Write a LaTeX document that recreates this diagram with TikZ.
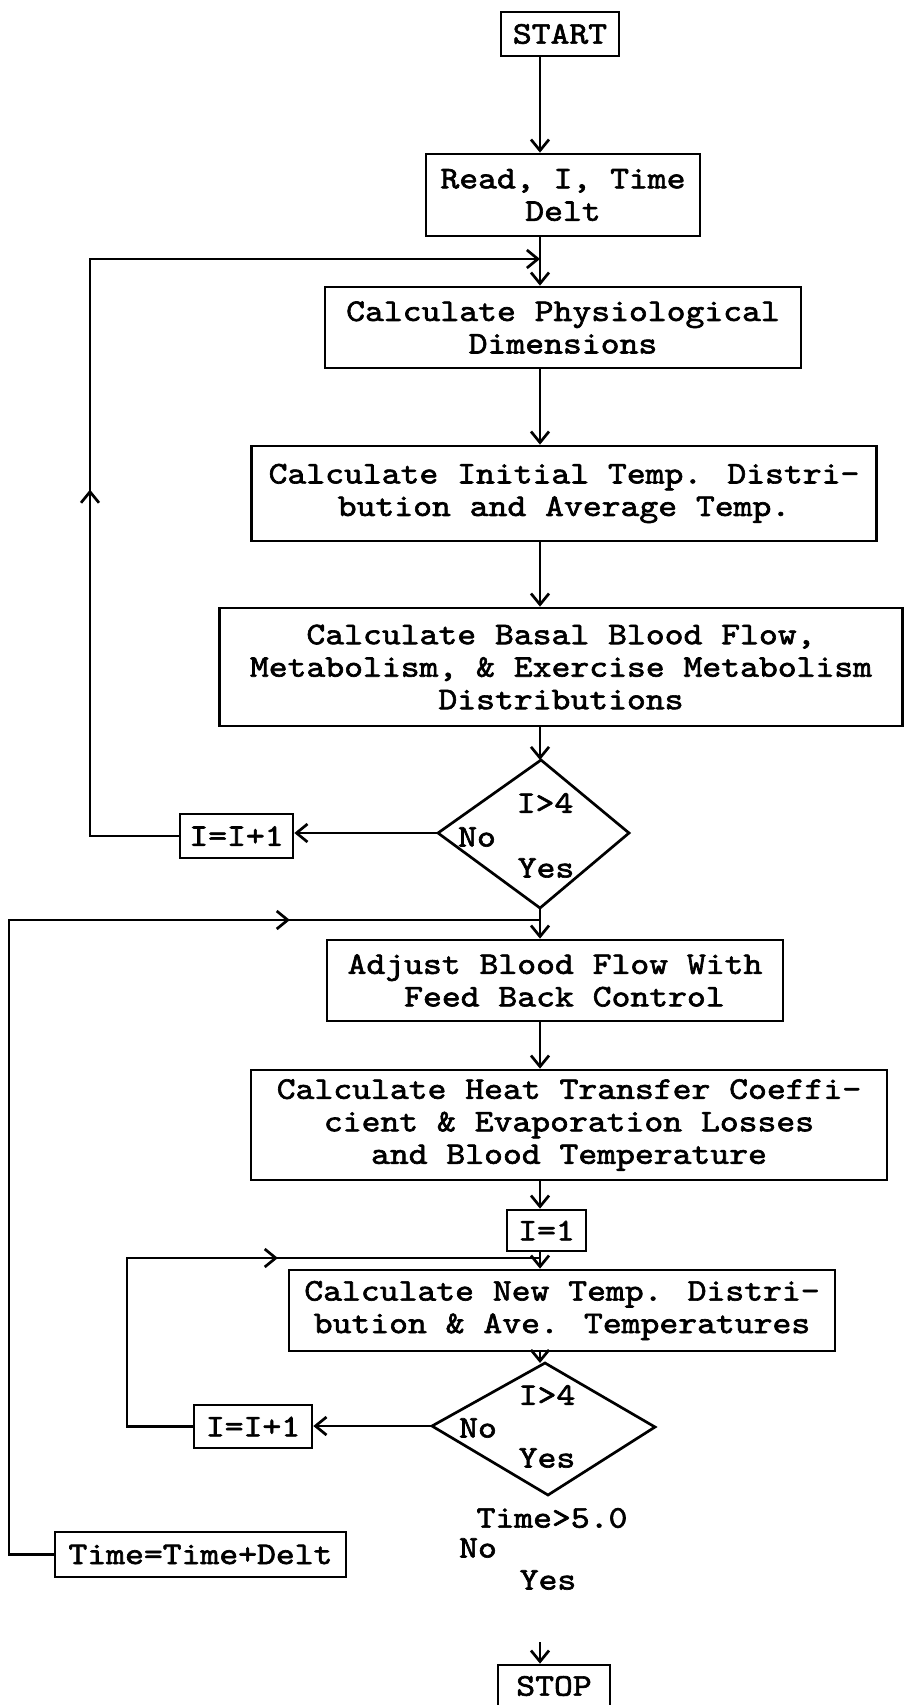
\documentclass[tikz,border=0pt]{standalone}
\usepackage{fontspec}
\newfontfamily\tw{lmmono10-regular.otf}[FakeStretch=1.14,FakeBold=2]
\usetikzlibrary{arrows.meta,decorations.markings}
\begin{document}
\begin{tikzpicture}[x=1pt,y=-1pt,
  line width=2.7pt,
  >={Straight Barb[length=11pt,width=18pt]},
  box/.style={draw, rectangle, inner sep=0pt, align=center, font=\tw\fontsize{31.5}{32.5}\selectfont},
  lbl/.style={font=\tw\fontsize{31.5}{32.5}\selectfont, inner sep=0pt},
  midarrow/.style={postaction={decorate,decoration={markings,mark=at position #1 with {\arrow{>}}}}}
]
\useasboundingbox (0,0) rectangle (906,1705);
\coordinate (M) at (540,0);
\coordinate (J1) at (540,259);
\coordinate (J2) at (540,920);
\coordinate (J3) at (540,1258);
\coordinate (S0) at (540,1642);

\node[box, minimum width=118pt, minimum height=44pt] (start) at (560,34) {START};
\node[box, minimum width=274pt, minimum height=82pt] (read) at (563,195) {Read, I, Time\\Delt};
\node[box, minimum width=476pt, minimum height=81pt] (phys) at (563,327.5) {Calculate Physiological\\Dimensions};
\node[box, minimum width=625pt, minimum height=95pt] (init) at (564,493.5) {Calculate Initial Temp. Distri-\\bution and Average Temp.};
\node[box, minimum width=683pt, minimum height=118pt] (basal) at (561,667) {Calculate Basal Blood Flow,\\Metabolism, \& Exercise Metabolism\\Distributions};
% decision 1
\coordinate (d1t) at (541,760);
\coordinate (d1l) at (438,833);
\coordinate (d1r) at (629,833);
\coordinate (d1b) at (540,908);
\draw (d1t) -- (d1r) -- (d1b) -- (d1l) -- cycle;
\node[box, minimum width=113pt, minimum height=44pt] (inc1) at (236.5,836) {I=I+1};
\node[box, minimum width=456pt, minimum height=81pt] (adj) at (555,980.5) {Adjust Blood Flow With\\\hphantom{x}Feed Back Control};
\node[box, minimum width=636pt, minimum height=110pt] (heat) at (569,1125) {Calculate Heat Transfer Coeffi-\\cient \& Evaporation Losses\\and Blood Temperature};
\node[box, minimum width=79pt, minimum height=41pt] (ione) at (546.5,1230.5) {I=1};
\node[box, minimum width=546pt, minimum height=81pt] (newt) at (562,1310.5) {Calculate New Temp. Distri-\\bution \& Ave. Temperatures};
% decision 2
\coordinate (d2t) at (545,1363);
\coordinate (d2l) at (432,1426);
\coordinate (d2r) at (655,1427);
\coordinate (d2b) at (548,1495);
\draw (d2t) -- (d2r) -- (d2b) -- (d2l) -- cycle;
\node[box, minimum width=118pt, minimum height=43pt] (inc2) at (253,1426.5) {I=I+1};
\node[box, minimum width=291pt, minimum height=45pt] (tinc) at (200.5,1554.5) {Time=Time+Delt};
\node[box, minimum width=112pt, minimum height=42pt] (stop) at (554,1686) {STOP};

\node[lbl] (l1) at (545,803) {I>4};
\node[lbl] (l2) at (477,837) {No};
\node[lbl] (l3) at (546,868) {Yes};
\node[lbl] (l4) at (547,1395) {I>4};
\node[lbl] (l5) at (478,1428) {No};
\node[lbl] (l6) at (547,1458) {Yes};
\node[lbl] (l7) at (552,1518) {Time>5.0};
\node[lbl] (l8) at (478,1548) {No};
\node[lbl] (l9) at (548,1580) {Yes};

\draw[->] (start.south -| M) -- (read.north -| M);
\draw[->] (read.south -| M) -- (phys.north -| M);
\draw[->] (phys.south -| M) -- (init.north -| M);
\draw[->] (init.south -| M) -- (basal.north -| M);
\draw[->] (basal.south -| M) -- (d1t -| M);
\draw[->] (d1l) -- (d1l -| inc1.east);
\draw[->] (d1b) -- (adj.north -| d1b);
\draw[->] (adj.south -| M) -- (heat.north -| M);
\draw[->] (heat.south -| M) -- (ione.north -| M);
\draw[->] (ione.south -| M) -- (newt.north -| M);
\draw[->] (newt.south -| M) -- (d2t -| M);
\draw[->] (d2l) -- (d2l -| inc2.east);
\draw[->] (S0) -- (stop.north -| M);

\draw[->, midarrow=435pt] (inc1.west) -- (90,836) -- (90,259) -- (J1);
\draw[midarrow=960pt] (tinc.west) -- (9,1554.5) -- (9,920) -- (J2);
\draw[midarrow=385pt] (inc2.west) -- (127,1426.5) -- (127,1258) -- (J3);
\end{tikzpicture}
\end{document}
